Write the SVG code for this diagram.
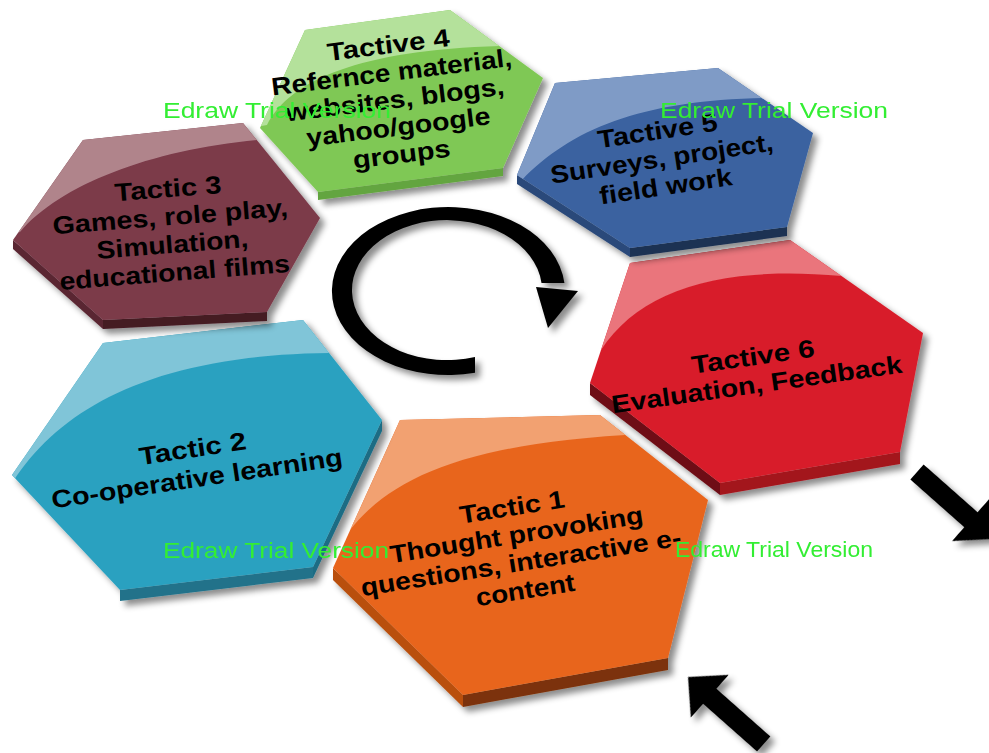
<svg xmlns="http://www.w3.org/2000/svg" xmlns:xlink="http://www.w3.org/1999/xlink" width="989" height="753" viewBox="0 0 989 753">
  <style>
    .lbl { font-family: "Liberation Sans", Arial, sans-serif; font-weight: bold; font-size: 25px; fill: #000; text-anchor: middle; }
    .wm { font-family: "Liberation Sans", Arial, sans-serif; font-size: 22px; fill: #33ee33; }
    .ink { fill: #000; }
  </style>
  <defs>
    <filter id="shadow" x="-10%" y="-10%" width="130%" height="130%">
      <feDropShadow dx="5" dy="5" stdDeviation="3" flood-color="#000" flood-opacity="0.45"/>
    </filter>
    <!-- hexagon outlines (top faces) -->
    <polygon id="hex4" points="305,30 450,10 543,78 503,168 318,192 260,128"/>
    <polygon id="hex5" points="555,83 718,68 813,133 787,227 630,248 517,175"/>
    <polygon id="hex3" points="83,140 243,123 320,218 267,312 103,320 13,240"/>
    <polygon id="hex2" points="103,343 303,320 382,420 313,567 120,590 12,475"/>
    <polygon id="hex1" points="400,420 600,415 708,500 668,658 463,695 333,568"/>
    <polygon id="hex6" points="630,263 790,240 923,333 900,452 720,483 590,383"/>
    <clipPath id="c4"><use xlink:href="#hex4"/></clipPath>
    <clipPath id="c5"><use xlink:href="#hex5"/></clipPath>
    <clipPath id="c3"><use xlink:href="#hex3"/></clipPath>
    <clipPath id="c2"><use xlink:href="#hex2"/></clipPath>
    <clipPath id="c1"><use xlink:href="#hex1"/></clipPath>
    <clipPath id="c6"><use xlink:href="#hex6"/></clipPath>
    <!-- block arrow pointing along +x, tail at origin -->
    <polygon id="blockArrow" points="0,-10 72,-10 72,-28.5 101,0 72,28.5 72,10 0,10"/>
  </defs>

  <rect width="989" height="753" fill="#fff"/>

  <!-- Tactive 6 -->
  <g id="tactive6" filter="url(#shadow)">
    <polygon points="590,383 720,483 720,495 590,395" fill="#6e0e16"/>
    <polygon points="720,483 900,452 900,464 720,495" fill="#a3161f"/>
    <use xlink:href="#hex6" fill="#d81f2b"/>
    <path clip-path="url(#c6)" d="M 601 350 C 640 290 720 265 842 276 L 900 220 L 620 220 L 560 380 Z" fill="#ea747b"/>
  </g>
  <g transform="translate(756,379) rotate(-8)">
    <text class="lbl" x="0" y="-14" textLength="124" lengthAdjust="spacingAndGlyphs">Tactive 6</text>
    <text class="lbl" x="0" y="14" textLength="293" lengthAdjust="spacingAndGlyphs">Evaluation, Feedback</text>
  </g>

  <!-- Tactive 5 -->
  <g id="tactive5" filter="url(#shadow)">
    <polygon points="517,175 630,248 630,257 517,184" fill="#2c4a7a"/>
    <polygon points="630,248 787,227 787,236 630,257" fill="#1c3152"/>
    <use xlink:href="#hex5" fill="#3a62a0"/>
    <path clip-path="url(#c5)" d="M 522 180 C 570 130 640 100 765 98 L 830 60 L 540 40 L 480 180 Z" fill="#7f9bc6"/>
  </g>
  <g transform="translate(663,167) rotate(-8.5)">
    <text class="lbl" x="0" y="-28" textLength="121" lengthAdjust="spacingAndGlyphs">Tactive 5</text>
    <text class="lbl" x="0" y="0" textLength="225" lengthAdjust="spacingAndGlyphs">Surveys, project,</text>
    <text class="lbl" x="0" y="28" textLength="134" lengthAdjust="spacingAndGlyphs">field work</text>
  </g>

  <!-- Tactic 1 -->
  <g id="tactic1" filter="url(#shadow)">
    <polygon points="333,568 463,695 463,707 333,580" fill="#b9500f"/>
    <polygon points="463,695 668,658 668,670 463,707" fill="#7b330a"/>
    <use xlink:href="#hex1" fill="#e8651e"/>
    <path clip-path="url(#c1)" d="M 350 530 C 390 480 460 445 625 435 L 700 380 L 380 380 L 300 560 Z" fill="#f2a171"/>
  </g>
  <g transform="translate(520,557) rotate(-9)">
    <text class="lbl" x="0" y="-42" textLength="106" lengthAdjust="spacingAndGlyphs">Tactic 1</text>
    <text class="lbl" x="0" y="-14" textLength="256" lengthAdjust="spacingAndGlyphs">Thought provoking</text>
    <text class="lbl" x="0" y="14" textLength="324" lengthAdjust="spacingAndGlyphs">questions, interactive e-</text>
    <text class="lbl" x="0" y="42" textLength="100" lengthAdjust="spacingAndGlyphs">content</text>
  </g>

  <!-- Tactic 2 -->
  <g id="tactic2" filter="url(#shadow)">
    <polygon points="382,420 313,567 313,578 382,431" fill="#1d6c84"/>
    <polygon points="313,567 120,590 120,601 313,578" fill="#22728a"/>
    <use xlink:href="#hex2" fill="#2ba1c0"/>
    <path clip-path="url(#c2)" d="M 14 480 C 60 410 150 355 329 353 L 420 300 L 80 300 L -10 480 Z" fill="#80c5d8"/>
  </g>
  <g transform="translate(196,472) rotate(-8.5)">
    <text class="lbl" x="0" y="-15" textLength="108" lengthAdjust="spacingAndGlyphs">Tactic 2</text>
    <text class="lbl" x="0" y="15" textLength="294" lengthAdjust="spacingAndGlyphs">Co-operative learning</text>
  </g>

  <!-- Tactic 3 -->
  <g id="tactic3" filter="url(#shadow)">
    <polygon points="13,240 103,320 103,329 13,249" fill="#5a2632"/>
    <polygon points="103,320 267,312 267,321 103,329" fill="#451a23"/>
    <use xlink:href="#hex3" fill="#7b3a4a"/>
    <path clip-path="url(#c3)" d="M 20 232 C 60 185 150 150 257 140 L 300 100 L 60 100 L -10 240 Z" fill="#b0848b"/>
  </g>
  <g transform="translate(172,239) rotate(-4.5)">
    <text class="lbl" x="0" y="-42" textLength="107" lengthAdjust="spacingAndGlyphs">Tactic 3</text>
    <text class="lbl" x="0" y="-14" textLength="236" lengthAdjust="spacingAndGlyphs">Games, role play,</text>
    <text class="lbl" x="0" y="14" textLength="152" lengthAdjust="spacingAndGlyphs">Simulation,</text>
    <text class="lbl" x="0" y="42" textLength="231" lengthAdjust="spacingAndGlyphs">educational films</text>
  </g>

  <!-- Tactive 4 -->
  <g id="tactive4" filter="url(#shadow)">
    <polygon points="318,192 503,168 503,176 318,200" fill="#64a540"/>
    <use xlink:href="#hex4" fill="#7fc854"/>
    <path clip-path="url(#c4)" d="M 267 125 C 290 80 360 50 500 46 L 560 0 L 250 0 L 240 130 Z" fill="#b4e19b"/>
  </g>
  <g transform="translate(396,108) rotate(-7)">
    <text class="lbl" x="0" y="-55" textLength="123" lengthAdjust="spacingAndGlyphs">Tactive 4</text>
    <text class="lbl" x="0" y="-27.5" textLength="242" lengthAdjust="spacingAndGlyphs">Refernce material,</text>
    <text class="lbl" x="0" y="0" textLength="220" lengthAdjust="spacingAndGlyphs">websites, blogs,</text>
    <text class="lbl" x="0" y="27.5" textLength="185" lengthAdjust="spacingAndGlyphs">yahoo/google</text>
    <text class="lbl" x="0" y="55" textLength="98" lengthAdjust="spacingAndGlyphs">groups</text>
  </g>

  <!-- connectors: cycle arrow and the two block arrows -->
  <g id="connectors" filter="url(#shadow)">
    <path class="ink" d="M 475 372.8 A 116.5 84 0 1 1 564.4 283 L 541.5 283 A 95 70 0 1 0 475 357 Z"/>
    <polygon class="ink" points="536,287 578,291 548,328"/>
    <use class="ink" xlink:href="#blockArrow" transform="translate(917,472) rotate(41.5)"/>
    <use class="ink" xlink:href="#blockArrow" transform="translate(688,677) rotate(221.5) translate(-101,0)"/>
  </g>

  <!-- trial watermarks -->
  <g id="watermarks">
    <text class="wm" x="163" y="118" textLength="228" lengthAdjust="spacingAndGlyphs">Edraw Trial Version</text>
    <text class="wm" x="660" y="118" textLength="228" lengthAdjust="spacingAndGlyphs">Edraw Trial Version</text>
    <text class="wm" x="163" y="558" textLength="226" lengthAdjust="spacingAndGlyphs">Edraw Trial Version</text>
    <text class="wm" x="675" y="557" textLength="198" lengthAdjust="spacingAndGlyphs">Edraw Trial Version</text>
  </g>
</svg>
